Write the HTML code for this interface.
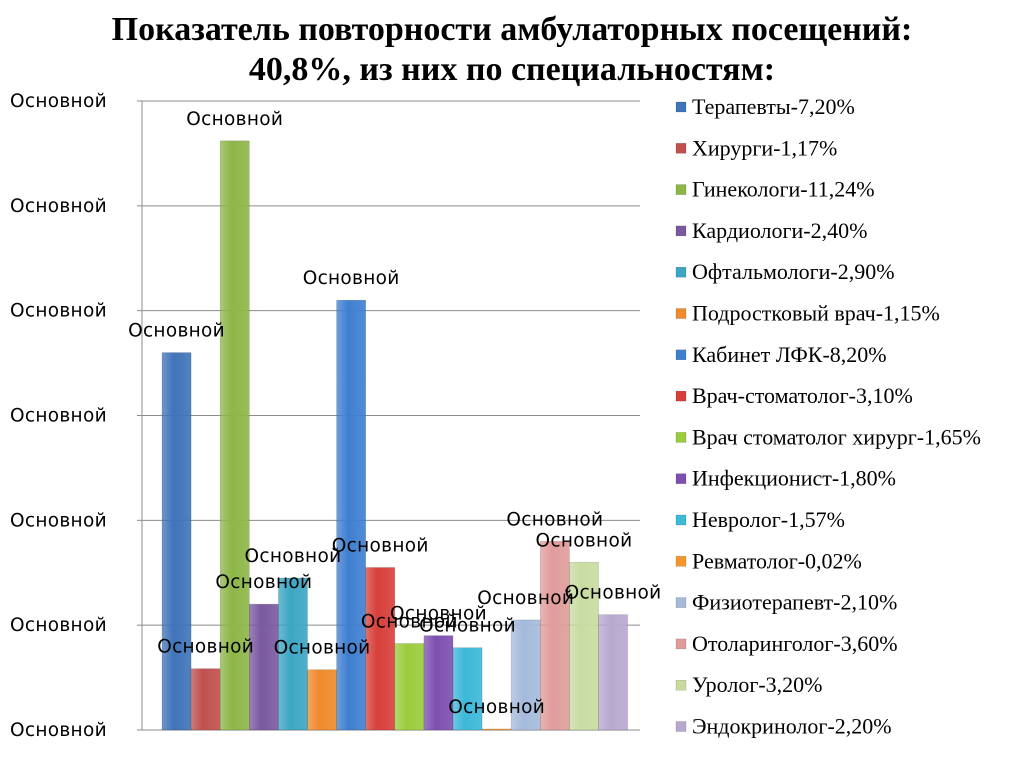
<!DOCTYPE html>
<html><head><meta charset="utf-8"><style>
body{margin:0;width:1024px;height:768px;background:#fff;overflow:hidden}
svg{display:block}
.t{font-family:"Liberation Serif",serif;font-weight:bold;font-size:34px;fill:#000}
.ax{font-family:"DejaVu Sans","Liberation Sans",sans-serif;font-size:18.5px;fill:#000;letter-spacing:0.3px}
.lg{font-family:"Liberation Serif",serif;font-size:22px;fill:#000}
</style></head><body>
<svg id="c" width="1024" height="768">
<text class="t" x="512" y="40" text-anchor="middle">Показатель повторности амбулаторных посещений:</text>
<text class="t" x="512" y="80" text-anchor="middle">40,8%, из них по специальностям:</text>
<g id="grid"></g><g id="bars"></g><g id="lbls"></g><g id="leg"></g>
</svg>
<script>
const series=["Терапевты-7,20%","Хирурги-1,17%","Гинекологи-11,24%","Кардиологи-2,40%","Офтальмологи-2,90%","Подростковый врач-1,15%","Кабинет ЛФК-8,20%","Врач-стоматолог-3,10%","Врач стоматолог хирург-1,65%","Инфекционист-1,80%","Невролог-1,57%","Ревматолог-0,02%","Физиотерапевт-2,10%","Отоларинголог-3,60%","Уролог-3,20%","Эндокринолог-2,20%"];
const values=[7.2,1.17,11.24,2.4,2.9,1.15,8.2,3.1,1.65,1.8,1.57,0.02,2.1,3.6,3.2,2.2];
const ticks=[0,2,4,6,8,10,12];
const tickLabel="Основной";
const colors=["#3f74b8","#c0504d","#8db648","#7a59a0","#3ca6c4","#f08a2c","#3f7fd0","#d83f3a","#9bcc3c","#7d4fb0","#3cb8d8","#f7962c","#a5badb","#e09c9a","#c8dca0","#b8a8d0"];
const NS="http://www.w3.org/2000/svg";
const x0=142,x1=640,yB=730,yT=101,vmax=12;
const y=v=>yB-(yB-yT)*v/vmax;
const bx=i=>162+i*29.1;const bw=29.1;
const svg=document.getElementById('c');
function mk(t,a,p){const e=document.createElementNS(NS,t);for(const k in a)e.setAttribute(k,a[k]);p.appendChild(e);return e;}
const defs=mk('defs',{},svg);
const g=document.getElementById('grid');
ticks.forEach(v=>{
 const l=mk('line',{x1:x0,x2:x1,y1:y(v),y2:y(v),stroke:'#8c8c8c','stroke-width':1},g);
 
 
 const tk=mk('line',{x1:x0-5,x2:x0,y1:y(v),y2:y(v),stroke:'#8c8c8c'},g);
 
 
 const t=mk('text',{x:10,y:y(v)+6,class:'ax'},g);t.textContent=tickLabel;
 
 
});
const ax=mk('line',{x1:x0,x2:x0,y1:yT,y2:yB,stroke:'#8c8c8c'},g);


const b=document.getElementById('bars'),lb=document.getElementById('lbls'),lg=document.getElementById('leg');
values.forEach((v,i)=>{
 const gr=mk('linearGradient',{id:'g'+i,x1:0,x2:1,y1:0,y2:0},defs);
 mk('stop',{offset:0,'stop-color':colors[i],'stop-opacity':0.75},gr);
 mk('stop',{offset:0.4,'stop-color':colors[i]},gr);
 mk('stop',{offset:1,'stop-color':colors[i],'stop-opacity':0.9},gr);
 const top=y(v);
 const r=mk('rect',{x:bx(i),y:top,width:bw,height:yB-top,fill:'url(#g'+i+')',stroke:'#00000030','stroke-width':0.6},b);
 
 
 const t=mk('text',{x:bx(i)+bw/2,y:top-16,class:'ax','text-anchor':'middle'},lb);t.textContent=tickLabel;
 
 
 const ly=107+i*41.3;
 const s=mk('rect',{x:676,y:ly-5,width:10,height:10,fill:colors[i],stroke:'#00000040','stroke-width':0.5},lg);
 
 
 const lt=mk('text',{x:692,y:ly+7,class:'lg'},lg);lt.textContent=series[i];
 
 
});
</script>
</body></html>
